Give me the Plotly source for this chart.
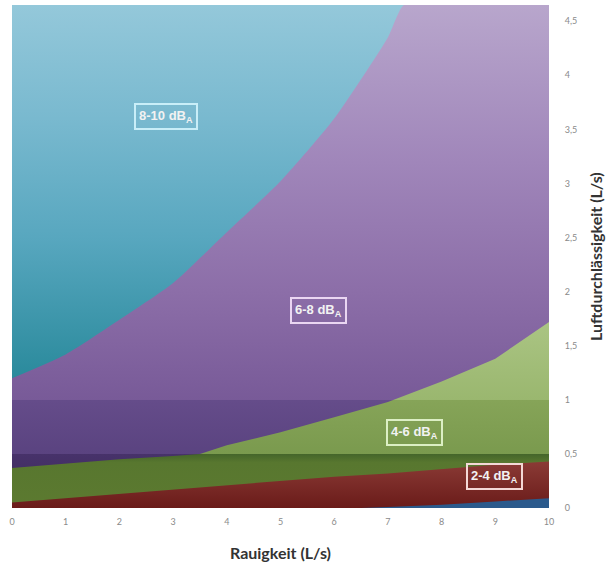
import plotly.graph_objects as go

# ---- data ----
y_top = 4.65
x_full = [0, 10]
cyan_top = [4.65, 4.65]

purple_x = [0, 1, 2, 3, 4, 5, 6, 7, 7.3, 8, 9, 10]
purple_y = [1.2, 1.42, 1.74, 2.08, 2.55, 3.02, 3.6, 4.35, 4.65, 4.65, 4.65, 4.65]

green_x = [0, 1, 2, 3, 3.5, 4, 5, 6, 7, 8, 9, 10]
green_y = [0.37, 0.41, 0.45, 0.48, 0.5, 0.58, 0.7, 0.84, 0.98, 1.17, 1.38, 1.72]

red_x = [0, 1, 2, 3, 4, 5, 6, 7, 8, 9, 10]
red_y = [0.05, 0.09, 0.13, 0.17, 0.21, 0.25, 0.29, 0.32, 0.36, 0.40, 0.43]

blue_x = [0, 6.5, 7, 8, 9, 10]
blue_y = [0, 0, 0.01, 0.03, 0.06, 0.09]

labels = ["8-10 dB<sub>A</sub>", "6-8 dB<sub>A</sub>", "4-6 dB<sub>A</sub>", "2-4 dB<sub>A</sub>"]
label_x = [2.87, 5.70, 7.50, 8.98]
label_y = [3.62, 1.83, 0.70, 0.29]
label_border = ["#c9eef8", "#ead6f2", "#dcefc4", "#f4d8d6"]

x_ticks = list(range(0, 11))
y_ticks = [0, 0.5, 1, 1.5, 2, 2.5, 3, 3.5, 4, 4.5]


def p(v):
    return v / y_top


def grad(stops):
    return dict(type="vertical", start=0, stop=y_top,
                colorscale=[[p(v), c] for v, c in stops])


cyan_grad = grad([(0, "#1d7686"), (1.2, "#2a8a9c"), (2.5, "#58a7bf"),
                  (3.6, "#79b9cf"), (4.65, "#94c8da")])
purple_grad = grad([(0, "#3b2859"), (0.5, "#47326a"), (0.5, "#5a4380"),
                    (1.0, "#654c8a"), (1.0, "#785a98"), (2.0, "#8c6ea8"),
                    (3.2, "#a086ba"), (4.65, "#b8a6cc")])
green_grad = grad([(0, "#5c7a30"), (0.42, "#58772f"), (0.5, "#44652a"),
                   (0.5, "#7a9a4e"), (1.0, "#86a458"), (1.0, "#9ab76f"),
                   (1.75, "#abc584"), (4.65, "#b5cc90")])
red_grad = grad([(0, "#6a1b19"), (0.45, "#8c3c37"), (4.65, "#8c3c37")])

fig = go.Figure()
fig.add_trace(go.Scatter(x=x_full, y=cyan_top, mode="lines", line=dict(width=0),
                         fill="tozeroy", fillgradient=cyan_grad, hoverinfo="skip"))
fig.add_trace(go.Scatter(x=purple_x, y=purple_y, mode="lines", line=dict(width=0, shape="spline", smoothing=0.6),
                         fill="tozeroy", fillgradient=purple_grad, hoverinfo="skip"))
fig.add_trace(go.Scatter(x=green_x, y=green_y, mode="lines", line=dict(width=0),
                         fill="tozeroy", fillgradient=green_grad, hoverinfo="skip"))
fig.add_trace(go.Scatter(x=red_x, y=red_y, mode="lines", line=dict(width=0),
                         fill="tozeroy", fillgradient=red_grad, hoverinfo="skip"))
fig.add_trace(go.Scatter(x=blue_x, y=blue_y, mode="lines", line=dict(width=0),
                         fill="tozeroy", fillcolor="#2b5a8c", hoverinfo="skip"))

for t, xx, yy, bc in zip(labels, label_x, label_y, label_border):
    fig.add_annotation(x=xx, y=yy, text=t, showarrow=False,
                       font=dict(family="Liberation Sans", size=13, color="#f2f2f2", weight="bold"),
                       bordercolor=bc, borderwidth=2, borderpad=3)

fig.add_annotation(text="Rauigkeit (L/s)", xref="paper", yref="paper", x=0.5, y=0,
                   yshift=-44, yanchor="middle", showarrow=False,
                   font=dict(family="Lato", size=16, color="#333333", weight="bold"))
fig.add_annotation(text="Luftdurchlässigkeit (L/s)", xref="paper", yref="paper", x=1, y=0.5,
                   xshift=58, textangle=-90, showarrow=False,
                   font=dict(family="Lato", size=16, color="#333333", weight="bold"))

fig.update_layout(
    width=608, height=565,
    margin=dict(l=12, r=59, t=5, b=57),
    paper_bgcolor="white", plot_bgcolor="white",
    showlegend=False,
    separators=",.",
    xaxis=dict(range=[0, 10], tickvals=x_ticks, showgrid=False, zeroline=False,
               ticks="outside", ticklen=5, tickcolor="rgba(0,0,0,0)",
               tickfont=dict(family="Lato", size=9, color="#8a8a8a")),
    yaxis=dict(range=[0, y_top], tickvals=y_ticks, side="right", showgrid=False,
               zeroline=False, ticks="outside", ticklen=13, tickcolor="rgba(0,0,0,0)",
               tickfont=dict(family="Lato", size=9, color="#8a8a8a")),
)

fig.write_html("out.html", config={"displayModeBar": False},
               post_script="document.body.style.margin='0';document.body.style.overflow='hidden';")
